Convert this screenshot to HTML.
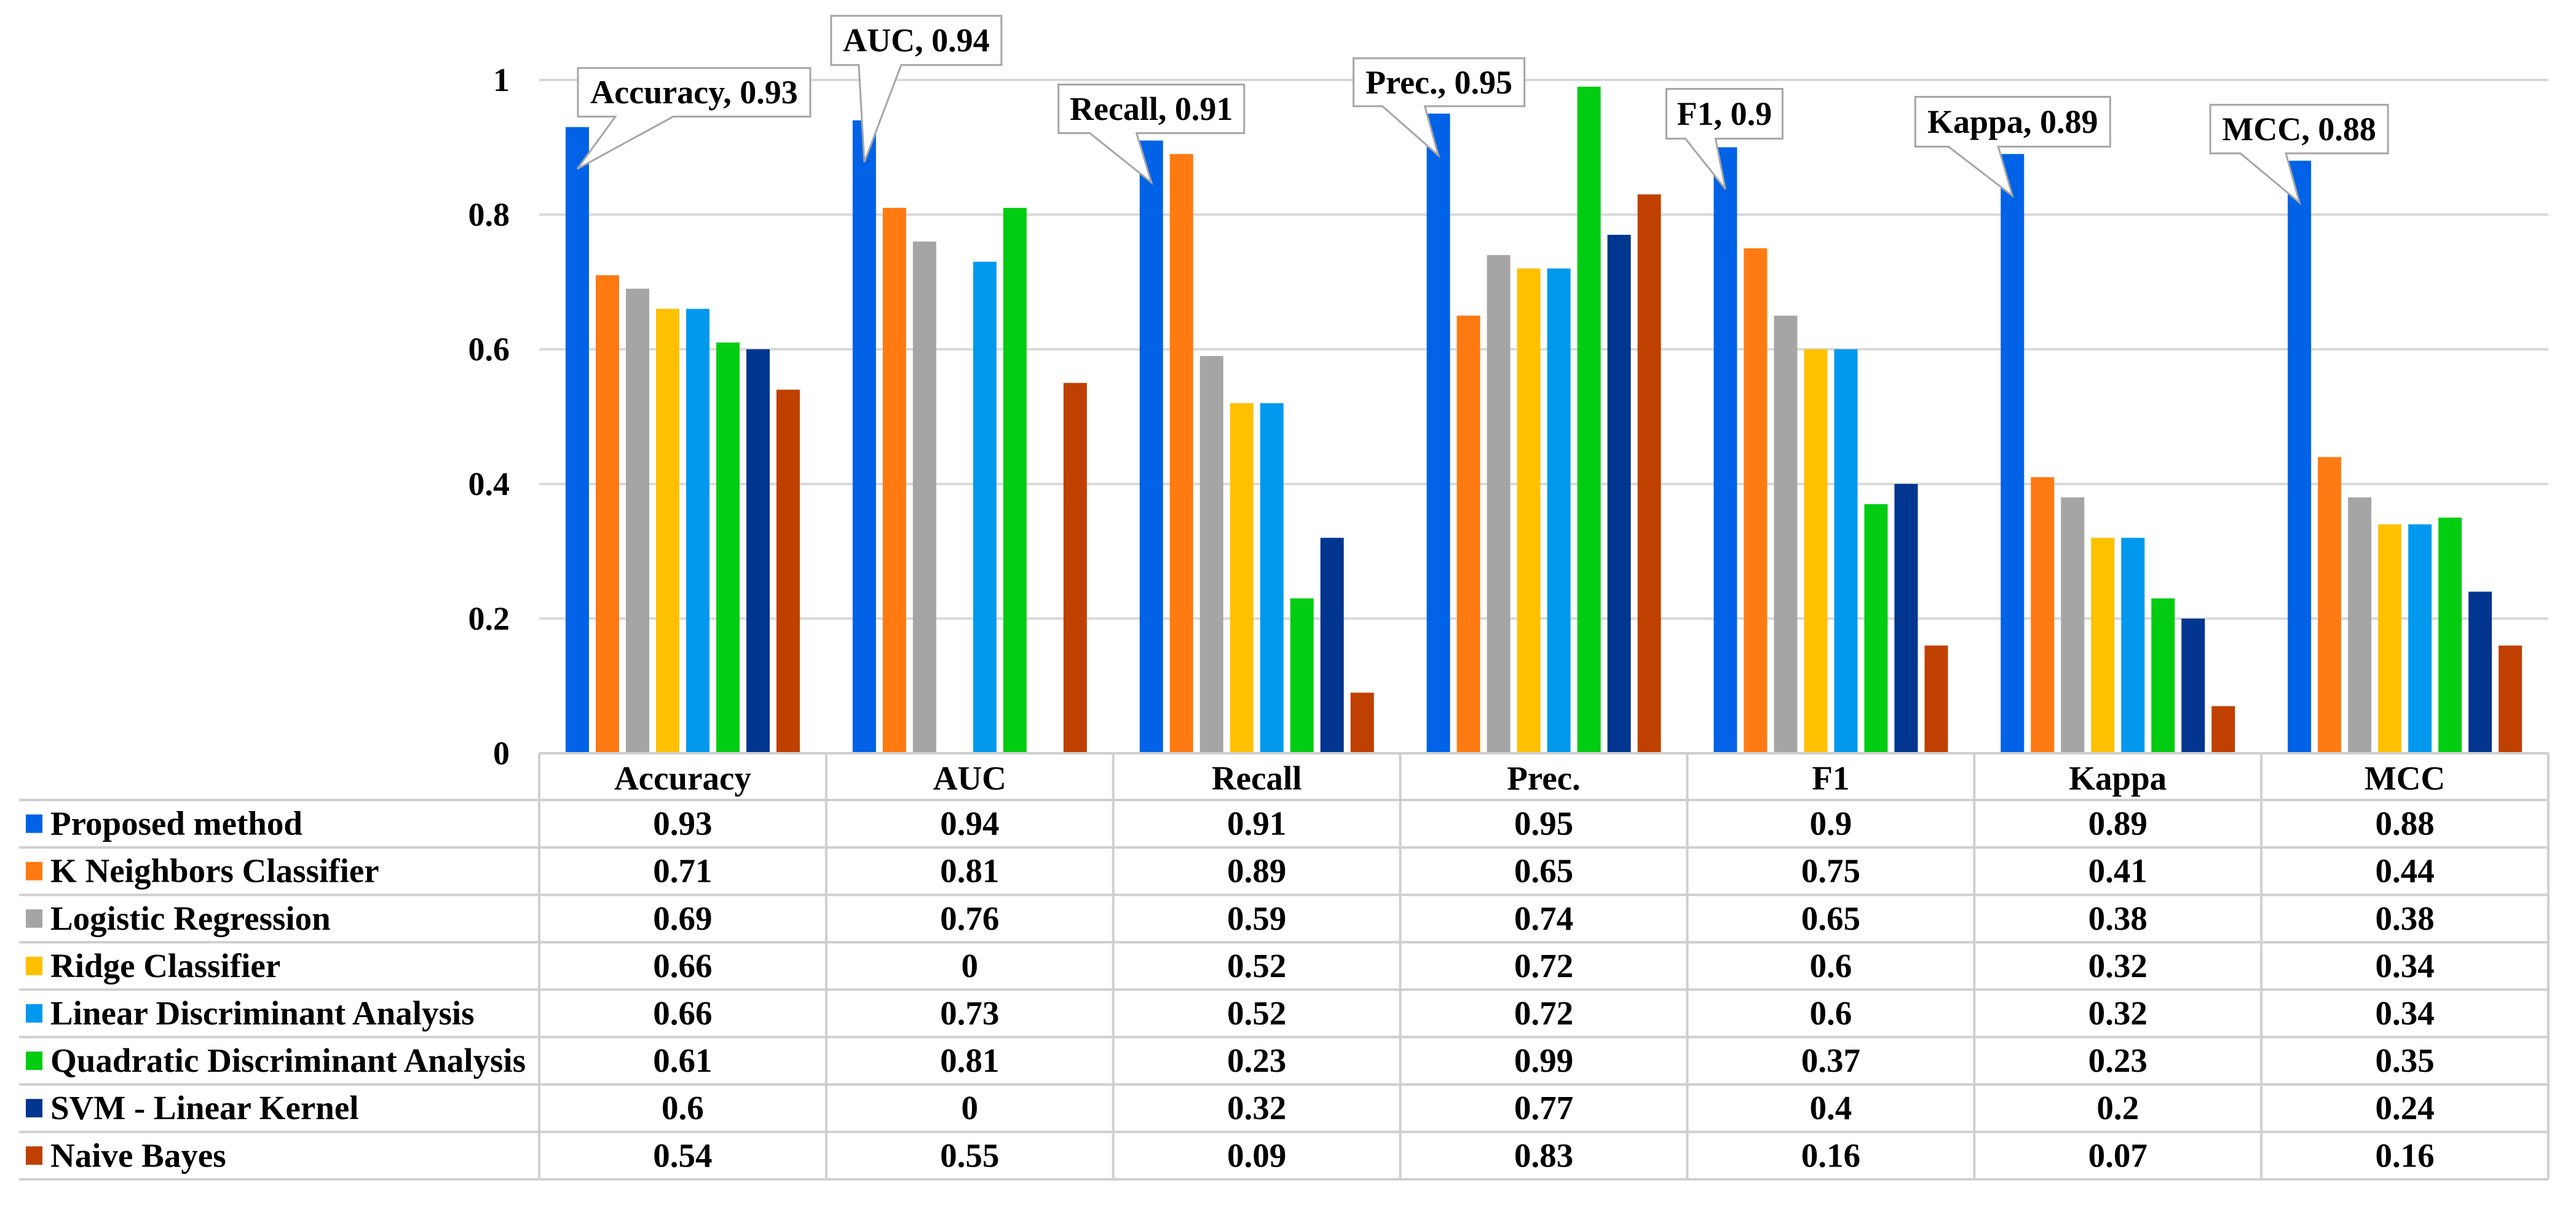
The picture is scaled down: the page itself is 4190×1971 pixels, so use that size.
<!DOCTYPE html>
<html><head><meta charset="utf-8"><style>
html,body{margin:0;padding:0;background:#fff}
svg{display:block}
svg text{font-family:"Liberation Serif","Times New Roman",serif;font-weight:bold;fill:#000}
</style></head>
<body>
<svg id="chart" width="4190" height="1971" viewBox="0 0 4190 1971" xmlns="http://www.w3.org/2000/svg" font-family="'Liberation Serif','Times New Roman',serif" font-weight="bold"></svg>
<script>
const categories = ["Accuracy","AUC","Recall","Prec.","F1","Kappa","MCC"];
const seriesNames = ["Proposed method","K Neighbors Classifier","Logistic Regression","Ridge Classifier","Linear Discriminant Analysis","Quadratic Discriminant Analysis","SVM - Linear Kernel","Naive Bayes"];
const proposed = [0.93,0.94,0.91,0.95,0.9,0.89,0.88];
const knn = [0.71,0.81,0.89,0.65,0.75,0.41,0.44];
const logreg = [0.69,0.76,0.59,0.74,0.65,0.38,0.38];
const ridge = [0.66,0,0.52,0.72,0.6,0.32,0.34];
const lda = [0.66,0.73,0.52,0.72,0.6,0.32,0.34];
const qda = [0.61,0.81,0.23,0.99,0.37,0.23,0.35];
const svm = [0.6,0,0.32,0.77,0.4,0.2,0.24];
const nb = [0.54,0.55,0.09,0.83,0.16,0.07,0.16];
const seriesValues = [proposed,knn,logreg,ridge,lda,qda,svm,nb];
const yTicks = [0,0.2,0.4,0.6,0.8,1];
const yTickLabels = ["0","0.2","0.4","0.6","0.8","1"];

const colors = ["#0062E6","#FF7A12","#A5A5A5","#FFC000","#0099EE","#00CC11","#003590","#C04000"];
const NS = "http://www.w3.org/2000/svg";
const FONT = "'Liberation Serif','Times New Roman',serif";
const svg = document.getElementById('chart');
function mk(tag, attrs, parent){
  const e = document.createElementNS(NS, tag);
  for (const k in attrs) e.setAttribute(k, attrs[k]);
  if (tag === 'text') { e.setAttribute('font-family', FONT); e.setAttribute('font-weight', 'bold'); }
  (parent||svg).appendChild(e);
  return e;
}
const plotLeft = 877, plotRight = 4145, y0 = 1225, y1 = 130;
const colW = (plotRight - plotLeft) / categories.length;
function yScale(v){ return y0 - (y0 - y1) * v; }
function xCat(i){ return plotLeft + colW * i; }
const barOffset = 43, barW = 38, barStep = 49;
function xBar(i, s){ return xCat(i) + barOffset + barStep * s; }

yTicks.forEach((t, k) => {
  if (t === 0) return;
  const g = mk('line', {x1:plotLeft, x2:plotRight, y1:yScale(t), y2:yScale(t), stroke:'#D9D9D9', 'stroke-width':4});
  
  
});
yTicks.forEach((t, k) => {
  const tx = mk('text', {x:829, y:yScale(t)+18, 'text-anchor':'end', 'font-size':54});
  tx.textContent = yTickLabels[k];
  
  
});
seriesValues.forEach((vals, s) => {
  vals.forEach((v, i) => {
    if (v <= 0) return;
    const r = mk('rect', {x:xBar(i,s), y:yScale(v), width:barW, height:y0 - yScale(v), fill:colors[s]});
    
    
  });
});

const headTop = y0, headBot = 1301, rowH = 77.1, tableLeft = 31;
const lines = mk('g', {stroke:'#CFCFCF', 'stroke-width':4});


mk('line', {x1:plotLeft, x2:plotRight, y1:headTop, y2:headTop}, lines);
for (let r = 0; r <= seriesNames.length; r++) {
  const y = headBot + rowH * r;
  mk('line', {x1:tableLeft, x2:plotRight, y1:y, y2:y}, lines);
}
const tableBottom = headBot + rowH * seriesNames.length;
for (let c = 0; c <= categories.length; c++) {
  mk('line', {x1:xCat(c), x2:xCat(c), y1:headTop, y2:tableBottom}, lines);
}
categories.forEach((c, i) => {
  const t = mk('text', {x:xCat(i)+colW/2, y:1284, 'text-anchor':'middle', 'font-size':55});
  t.textContent = c;
  
  
});
seriesNames.forEach((n, s) => {
  const cy = headBot + rowH * (s + 0.5);
  const sw = mk('rect', {x:42, y:cy-15, width:27, height:30, fill:colors[s]});
  
  
  const t = mk('text', {x:82, y:cy+18, 'font-size':55});
  t.textContent = n;
  
  
  seriesValues[s].forEach((v, i) => {
    const vt = mk('text', {x:xCat(i)+colW/2, y:cy+18, 'text-anchor':'middle', 'font-size':55});
    vt.textContent = String(v);
    
    
  });
});

const calloutBoxL = [1,-54,-151,-138,-96,-158,-145];
const calloutBoxR = [379,223,151,140,93,159,144];
const calloutBoxT = [-164,-238,-159,-158,-163,-161,-159];
const calloutBoxB = [-85,-158,-80,-80,-82,-80,-80];
const calloutBaseL = [62,-9,-100,-91,-65,-104,-96];
const calloutBaseR = [156,60,-24,-22,-16,-23,-22];
proposed.forEach((v, i) => {
  const tx = xBar(i,0) + barW/2, ty = yScale(v) + 68;
  const L = tx + calloutBoxL[i], R = tx + calloutBoxR[i], T = ty + calloutBoxT[i], B = ty + calloutBoxB[i];
  const p1 = tx + calloutBaseL[i], p2 = tx + calloutBaseR[i];
  const g = mk('g', {});
  
  
  mk('path', {d:`M${L},${T} L${R},${T} L${R},${B} L${p2},${B} L${tx},${ty} L${p1},${B} L${L},${B} Z`, fill:'#fff', stroke:'#A6A6A6', 'stroke-width':3}, g);
  const t = mk('text', {x:(L+R)/2, y:(T+B)/2+18, 'text-anchor':'middle', 'font-size':54}, g);
  t.textContent = categories[i] + ", " + v;
});
</script>
</body></html>
